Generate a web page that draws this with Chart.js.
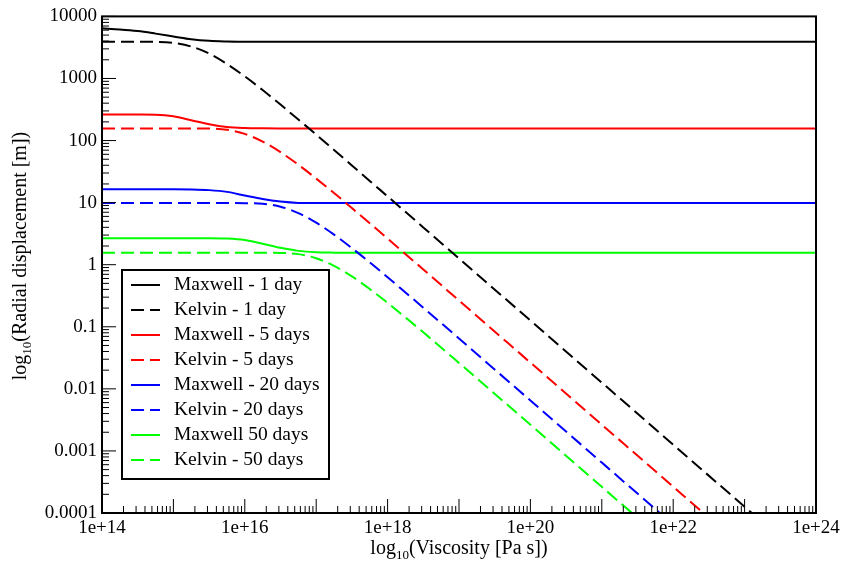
<!DOCTYPE html>
<html>
<head>
<meta charset="utf-8">
<script src="https://cdn.jsdelivr.net/npm/chart.js@4.4.1/dist/chart.umd.min.js"></script>
<style>
  html, body { margin: 0; padding: 0; background: #fff; }
  #chart { display: block; }
</style>
</head>
<body>
<canvas id="chart" width="845" height="572"></canvas>
<script>
// viscosity sample points, as log10(eta)
const viscosityExp = [14, 14.25, 14.5, 14.75, 15, 15.25, 15.5, 15.75, 16, 16.25, 16.5, 16.75,
                      17, 17.25, 17.5, 17.75, 18, 18.5, 19, 20, 21, 22, 23, 24];

// radial displacement [m]
const maxwell1 = [6430, 6170, 5800, 5280, 4760, 4290, 4040, 3950, 3915, 3905, 3900, 3900,
                  3900, 3900, 3900, 3900, 3900, 3900, 3900, 3900, 3900, 3900, 3900, 3900];
const kelvin1 = [3900, 3900, 3900, 3890, 3750, 3270, 2520, 1710, 1080, 650, 380, 218,
                 125, 70.4, 39.7, 22.4, 12.6, 3.99, 1.26, 0.126, 0.0126, 0.00126, 1.26e-4, 1.26e-5];
const maxwell5 = [264, 264, 263, 261, 246, 213, 183, 165, 159, 157.5, 157, 157,
                  157, 157, 157, 157, 157, 157, 157, 157, 157, 157, 157, 157];
const kelvin5 = [157, 157, 157, 157, 157, 157, 156, 149, 128, 96.2, 65, 40.8,
                 24.4, 14.3, 8.17, 4.65, 2.63, 0.838, 0.265, 0.0265, 2.65e-3, 2.65e-4, 2.65e-5, 2.65e-6];
const maxwell20 = [16.4, 16.4, 16.4, 16.4, 16.4, 16.3, 15.9, 14.9, 13.0, 11.4, 10.4, 9.9,
                   9.83, 9.82, 9.82, 9.82, 9.82, 9.82, 9.82, 9.82, 9.82, 9.82, 9.82, 9.82];
const kelvin20 = [9.82, 9.82, 9.82, 9.82, 9.82, 9.82, 9.82, 9.82, 9.81, 9.57, 8.60, 6.79,
                  4.75, 3.05, 1.85, 1.09, 0.628, 0.203, 0.0647, 0.00649, 6.49e-4, 6.49e-5, 6.49e-6, 6.49e-7];
const maxwell50 = [2.67, 2.67, 2.67, 2.67, 2.67, 2.67, 2.67, 2.64, 2.50, 2.18, 1.87, 1.67,
                   1.59, 1.565, 1.556, 1.556, 1.556, 1.556, 1.556, 1.556, 1.556, 1.556, 1.556, 1.556];
const kelvin50 = [1.556, 1.556, 1.556, 1.556, 1.556, 1.556, 1.556, 1.556, 1.556, 1.556, 1.55, 1.48,
                  1.27, 0.957, 0.647, 0.406, 0.243, 0.0813, 0.0262, 0.00264, 2.64e-4, 2.64e-5, 2.64e-6, 2.64e-7];

const xTicks = [1e14, 1e16, 1e18, 1e20, 1e22, 1e24];
const xTickLabels = ['1e+14', '1e+16', '1e+18', '1e+20', '1e+22', '1e+24'];
const yTicks = [1e-4, 1e-3, 1e-2, 1e-1, 1, 10, 100, 1000, 10000];
const yTickLabels = ['0.0001', '0.001', '0.01', '0.1', '1', '10', '100', '1000', '10000'];

const FONT = "'Liberation Serif', 'Times New Roman', serif";
const DASH = [13, 6];

function points(values) {
  return values.map((v, i) => ({ x: Math.pow(10, viscosityExp[i]), y: v }));
}

function series(label, values, color, dashed) {
  return {
    label: label,
    data: points(values),
    borderColor: color,
    backgroundColor: color,
    borderWidth: 2,
    borderDash: dashed ? DASH : [],
    pointRadius: 0,
    fill: false,
    cubicInterpolationMode: 'monotone'
  };
}

// ticks point into the plot, majors every decade, minors at 2..9
const axisTicks = {
  id: 'axisTicks',
  afterDraw(chart) {
    const ctx = chart.ctx;
    const area = chart.chartArea;
    const xs = chart.scales.x, ys = chart.scales.y;
    ctx.save();
    ctx.strokeStyle = '#000';
    ctx.lineWidth = 1;
    ctx.beginPath();
    for (let e = 14; e <= 24; e++) {
      for (let m = 1; m <= 9; m++) {
        if (e === 24 && m > 1) break;
        const px = xs.getPixelForValue(m * Math.pow(10, e));
        const len = m === 1 ? 14 : 7;
        ctx.moveTo(px, area.bottom);
        ctx.lineTo(px, area.bottom - len);
      }
    }
    for (let e = -4; e <= 4; e++) {
      for (let m = 1; m <= 9; m++) {
        if (e === 4 && m > 1) break;
        const py = ys.getPixelForValue(m * Math.pow(10, e));
        const len = m === 1 ? 14 : 7;
        ctx.moveTo(area.left, py);
        ctx.lineTo(area.left + len, py);
      }
    }
    ctx.stroke();
    ctx.lineWidth = 2;
    ctx.strokeRect(area.left, area.top, area.right - area.left, area.bottom - area.top);
    ctx.restore();
  }
};

function drawLogTitle(ctx, rest, x, y) {
  const big = '20px ' + FONT, small = '13px ' + FONT;
  ctx.font = big;
  const wLog = ctx.measureText('log').width;
  const wRest = ctx.measureText(rest).width;
  ctx.font = small;
  const wSub = ctx.measureText('10').width;
  let cx = x - (wLog + wSub + wRest) / 2;
  ctx.textAlign = 'left';
  ctx.textBaseline = 'alphabetic';
  ctx.font = big;
  ctx.fillText('log', cx, y);
  cx += wLog;
  ctx.font = small;
  ctx.fillText('10', cx, y + 5);
  cx += wSub;
  ctx.font = big;
  ctx.fillText(rest, cx, y);
}

const axisTitles = {
  id: 'axisTitles',
  afterDraw(chart) {
    const ctx = chart.ctx;
    const area = chart.chartArea;
    ctx.save();
    ctx.fillStyle = '#000';
    drawLogTitle(ctx, '(Viscosity [Pa s])', (area.left + area.right) / 2, 554);
    ctx.translate(26, 256);
    ctx.rotate(-Math.PI / 2);
    drawLogTitle(ctx, '(Radial displacement [m])', 0, 0);
    ctx.restore();
  }
};

// boxed legend in the lower left of the plot
const boxLegend = {
  id: 'boxLegend',
  afterDraw(chart) {
    const ctx = chart.ctx;
    const left = 122, top = 270, width = 207, height = 209;
    ctx.save();
    ctx.fillStyle = '#fff';
    ctx.fillRect(left, top, width, height);
    ctx.lineWidth = 2;
    ctx.strokeStyle = '#000';
    ctx.strokeRect(left, top, width, height);
    ctx.font = '19.5px ' + FONT;
    ctx.textBaseline = 'middle';
    ctx.textAlign = 'left';
    chart.data.datasets.forEach((ds, i) => {
      const y = top + 15 + i * 25;
      ctx.strokeStyle = ds.borderColor;
      ctx.lineWidth = 2;
      ctx.setLineDash(ds.borderDash);
      ctx.beginPath();
      ctx.moveTo(131, y);
      ctx.lineTo(160, y);
      ctx.stroke();
      ctx.setLineDash([]);
      ctx.fillStyle = '#000';
      ctx.fillText(ds.label, 174, y);
    });
    ctx.restore();
  }
};

const chart = new Chart(document.getElementById('chart').getContext('2d'), {
  type: 'line',
  data: {
    datasets: [
      series('Maxwell - 1 day', maxwell1, '#000000', false),
      series('Kelvin - 1 day', kelvin1, '#000000', true),
      series('Maxwell - 5 days', maxwell5, '#ff0000', false),
      series('Kelvin - 5 days', kelvin5, '#ff0000', true),
      series('Maxwell - 20 days', maxwell20, '#0000ff', false),
      series('Kelvin - 20 days', kelvin20, '#0000ff', true),
      series('Maxwell 50 days', maxwell50, '#00ff00', false),
      series('Kelvin - 50 days', kelvin50, '#00ff00', true)
    ]
  },
  options: {
    responsive: false,
    animation: false,
    layout: { padding: { left: 0, right: 29, top: 13, bottom: 0 } },
    plugins: {
      legend: { display: false },
      tooltip: { enabled: false }
    },
    scales: {
      x: {
        type: 'logarithmic',
        min: 1e14,
        max: 1e24,
        afterBuildTicks: (scale) => { scale.ticks = xTicks.map(v => ({ value: v })); },
        afterFit: (scale) => { scale.height = 59; },
        grid: { drawOnChartArea: false, drawTicks: false },
        border: { display: false },
        ticks: {
          autoSkip: false,
          maxRotation: 0,
          padding: 4,
          color: '#000',
          font: { family: FONT, size: 19 },
          callback: (value, index) => xTickLabels[index]
        }
      },
      y: {
        type: 'logarithmic',
        min: 1e-4,
        max: 1e4,
        afterBuildTicks: (scale) => { scale.ticks = yTicks.map(v => ({ value: v })); },
        afterFit: (scale) => { scale.width = 102; },
        grid: { drawOnChartArea: false, drawTicks: false },
        border: { display: false },
        ticks: {
          autoSkip: false,
          padding: 5,
          color: '#000',
          font: { family: FONT, size: 19 },
          callback: (value, index) => yTickLabels[index]
        }
      }
    }
  },
  plugins: [axisTicks, axisTitles, boxLegend]
});
</script>
</body>
</html>
